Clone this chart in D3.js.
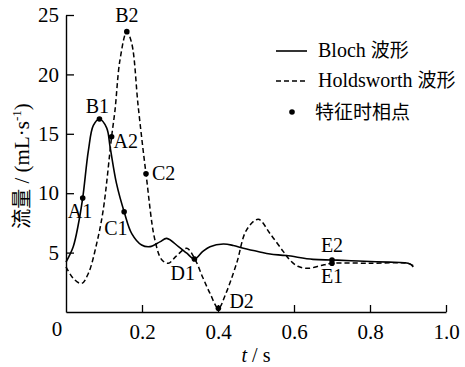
<!DOCTYPE html>
<html><head><meta charset="utf-8">
<script src="https://cdn.jsdelivr.net/npm/d3@7"></script>
<style>
body{margin:0;background:#fff;}
svg{display:block;}
text{font-family:"Liberation Serif","Times New Roman",serif;fill:#000;}
.cjk{font-family:"Noto Sans CJK SC",sans-serif;}
</style></head>
<body>
<svg id="c" width="465" height="367"></svg>
<script>
// ---- data ----
const blochT = [0,0.019,0.032,0.044,0.059,0.072,0.088,0.107,0.116,0.133,0.153,0.173,0.199,0.221,0.247,0.265,0.296,0.318,0.338,0.36,0.379,0.414,0.44,0.467,0.51,0.537,0.58,0.65,0.7,0.75,0.8,0.85,0.89,0.905,0.914];
const blochV = [4.2,5.5,7.3,9.6,13.6,15.7,16.25,15.5,13.9,10.8,8.44,6.6,5.64,5.5,5.9,6.2,5.5,4.95,4.46,5.1,5.5,5.72,5.6,5.36,5.05,4.88,4.75,4.43,4.38,4.32,4.25,4.2,4.15,4.05,3.8];
const holdT = [0,0.02,0.041,0.059,0.081,0.098,0.12,0.129,0.142,0.16,0.173,0.19,0.2105,0.234,0.252,0.269,0.29,0.318,0.339,0.36,0.379,0.401,0.42,0.449,0.475,0.506,0.537,0.572,0.589,0.61,0.638,0.67,0.7,0.8,0.9,0.914];
const holdV = [3.8,2.8,2.4,3.26,5.8,8.6,14.75,17.0,21.2,23.6,22.6,17.3,11.64,6.06,4.4,4.1,4.7,5.36,4.46,2.9,1.57,0.31,1.5,4.1,6.9,7.8,6.6,5.08,4.38,3.85,3.68,3.9,4.1,4.1,4.1,3.9];
const blochKeyT = [0.044,0.088,0.153,0.338,0.7];
const blochKeyV = [9.6,16.25,8.44,4.46,4.38];
const blochKeyLabels = ["A1","B1","C1","D1","E2"];
const holdKeyT = [0.12,0.16,0.2105,0.401,0.7];
const holdKeyV = [14.75,23.6,11.64,0.31,4.1];
const holdKeyLabels = ["A2","B2","C2","D2","E1"];
const xTicks = [0.2,0.4,0.6,0.8,1.0];
const yTicks = [5,10,15,20,25];
const legendLabels = ["Bloch 波形","Holdsworth 波形","特征时相点"];

// ---- layout ----
const svg = d3.select("#c");
const x = d3.scaleLinear().domain([0,1]).range([66,446]);
const y = d3.scaleLinear().domain([0,25]).range([312,15]);

// axes
const xAxis = d3.axisBottom(x).tickValues(xTicks).tickFormat(d3.format(".1f")).tickSizeInner(-7).tickSizeOuter(0).tickPadding(12);
const gx = svg.append("g").attr("transform","translate(0,312)").call(xAxis);
const yAxis = d3.axisLeft(y).tickValues(yTicks).tickFormat(d3.format("d")).tickSizeInner(-8).tickSizeOuter(0).tickPadding(7);
const gy = svg.append("g").attr("transform","translate(66,0)").call(yAxis);
[gx,gy].forEach(g=>{
  g.select(".domain").attr("stroke","#000").attr("stroke-width",1.4);
  g.selectAll(".tick line").attr("stroke","#000").attr("stroke-width",1.3);
  g.selectAll(".tick text").style("font-family","'Liberation Serif',serif").style("font-size","21px").attr("fill","#000");
});
gx.selectAll(".tick text").attr("dy","0.71em");
// origin label
svg.append("text").attr("x",57).attr("y",336).attr("text-anchor","middle").style("font-size","21px").text("0");

// lines
const line = d3.line().x(d=>x(d[0])).y(d=>y(d[1])).curve(d3.curveCatmullRom.alpha(0.5));
svg.append("path").datum(holdT.map((t,i)=>[t,holdV[i]])).attr("d",line)
  .attr("fill","none").attr("stroke","#000").attr("stroke-width",1.5).attr("stroke-dasharray","5,3");
svg.append("path").datum(blochT.map((t,i)=>[t,blochV[i]])).attr("d",line)
  .attr("fill","none").attr("stroke","#000").attr("stroke-width",1.6);

// key points
const labelOff = {A1:[-15,20,"start"],B1:[-2,-6,"middle"],C1:[-20,23,"start"],D1:[-24,21,"start"],E2:[0,-8,"middle"],
  A2:[2,11,"start"],B2:[0,-10,"middle"],C2:[6,6,"start"],D2:[11,0,"start"],E1:[0,20,"middle"]};
const keys = blochKeyT.map((t,i)=>({t,v:blochKeyV[i],l:blochKeyLabels[i]}))
  .concat(holdKeyT.map((t,i)=>({t,v:holdKeyV[i],l:holdKeyLabels[i]})));
svg.selectAll("circle.k").data(keys).enter().append("circle").attr("class","k")
  .attr("cx",d=>x(d.t)).attr("cy",d=>y(d.v)).attr("r",2.8).attr("fill","#000");
svg.selectAll("text.k").data(keys).enter().append("text").attr("class","k")
  .attr("x",d=>x(d.t)+labelOff[d.l][0]).attr("y",d=>y(d.v)+labelOff[d.l][1])
  .attr("text-anchor",d=>labelOff[d.l][2]).style("font-size","20px").text(d=>d.l);

// legend
const lg = svg.append("g");
lg.append("line").attr("x1",276).attr("x2",307).attr("y1",51).attr("y2",51).attr("stroke","#000").attr("stroke-width",1.6);
lg.append("line").attr("x1",276).attr("x2",307).attr("y1",81).attr("y2",81).attr("stroke","#000").attr("stroke-width",1.5).attr("stroke-dasharray","5,3");
lg.append("circle").attr("cx",292).attr("cy",112).attr("r",2.8).attr("fill","#000");
[[57,0],[87,1]].forEach(([yy,i])=>{
  const parts = legendLabels[i].split(" ");
  const t = lg.append("text").attr("x",318).attr("y",yy).style("font-size","20px");
  t.append("tspan").text(parts[0]+" ");
  t.append("tspan").attr("class","cjk").style("font-size","19px").text(parts[1]);
});
lg.append("text").attr("class","cjk").attr("x",315).attr("y",119).style("font-size","19px").text(legendLabels[2]);

// axis titles
const xt = svg.append("text").attr("x",256).attr("y",362).attr("text-anchor","middle").style("font-size","20px");
xt.append("tspan").style("font-style","italic").text("t");
xt.append("tspan").text(" / s");
const yt = svg.append("text").attr("transform","translate(29,166) rotate(-90)").attr("text-anchor","middle").style("font-size","21px");
yt.append("tspan").attr("class","cjk").style("font-size","20px").text("流量");
yt.append("tspan").text(" / (mL·s");
yt.append("tspan").attr("dy",-8).style("font-size","13px").text("-1");
yt.append("tspan").attr("dy",8).text(")");
</script>
</body></html>
